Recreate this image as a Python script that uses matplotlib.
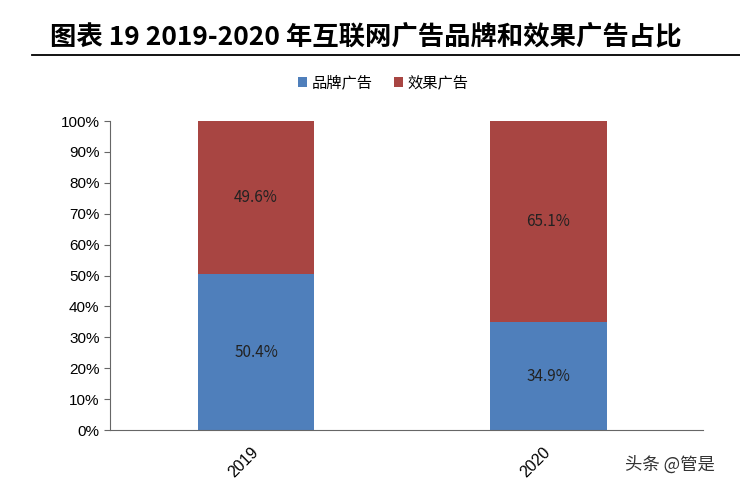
import numpy as np
import matplotlib.pyplot as plt
from matplotlib.lines import Line2D

plt.rcParams['font.family'] = ['Noto Sans CJK SC', 'DejaVu Sans']

years = ['2019', '2020']
brand = [50.4, 34.9]
effect = [49.6, 65.1]
series_names = ['品牌广告', '效果广告']
blue = '#4F7FBB'
red = '#A84542'

fig = plt.figure(figsize=(7.4, 4.9), dpi=100)
ax = fig.add_axes([0.1486, 0.1224, 0.8014, 0.6306])

x = np.arange(len(years))
ax.bar(x, brand, width=0.4, color=blue, label=series_names[0])
ax.bar(x, effect, width=0.4, bottom=brand, color=red, label=series_names[1])

for i in range(len(years)):
    ax.text(x[i], brand[i] / 2, f'{brand[i]:.1f}%', ha='center', va='center', fontsize=11, color='#222222')
    ax.text(x[i], brand[i] + effect[i] / 2, f'{effect[i]:.1f}%', ha='center', va='center', fontsize=11, color='#222222')

ax.set_xlim(-0.5, 1.53)
ax.set_ylim(0, 100)
ax.set_yticks(np.arange(0, 101, 10))
ax.set_yticklabels([f'{v}%' for v in range(0, 101, 10)], fontsize=11, family=['Liberation Sans', 'DejaVu Sans'])
ax.set_xticks(x)
ax.set_xticklabels(years, rotation=45, fontsize=11.5, family=['Liberation Sans', 'DejaVu Sans'],
                   ha='right', va='center', rotation_mode='anchor')
ax.tick_params(axis='x', length=0, pad=14)
ax.tick_params(axis='y', length=4, color='#666666', direction='out')
for s in ['top', 'right']:
    ax.spines[s].set_visible(False)
ax.spines['left'].set_color('#666666')
ax.spines['bottom'].set_color('#666666')

fig.legend(loc='center', bbox_to_anchor=(0.518, 0.831), ncol=2, frameon=False, fontsize=11,
           handlelength=0.6, handleheight=0.6, handletextpad=0.3, columnspacing=1.4)

fig.text(0.068, 0.922, '图表 19 2019-2020 年互联网广告品牌和效果广告占比', fontsize=19, fontweight='bold', va='center')
fig.add_artist(Line2D([0.043, 1.0], [0.888, 0.888], transform=fig.transFigure, color='black', lw=1.3))
fig.text(0.845, 0.051, '头条 @管是', fontsize=12.5, color='#333333', va='center')

fig.savefig('out.png', dpi=100)
